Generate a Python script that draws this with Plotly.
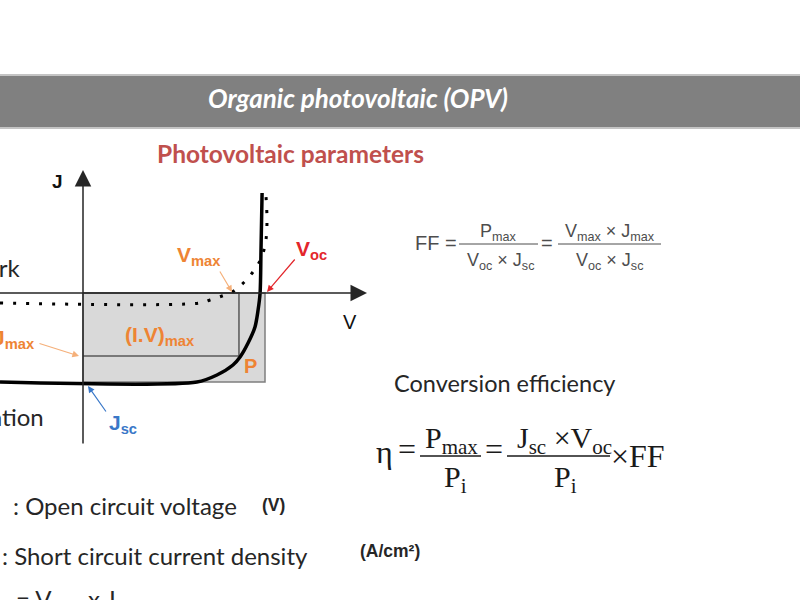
import plotly.graph_objects as go

W, H = 800, 600

# ---------------- data (normalised units: V / Voc , J / |Jsc|) ----------------
light_V = [-0.456, 0.626, 0.736, 0.824, 0.863, 0.907, 0.945, 0.962, 0.973, 0.978, 0.984]
light_J = [-1.0, -1.0, -0.921, -0.809, -0.719, -0.562, -0.382, -0.191, 0.0, 0.483, 1.124]
dark_V = [-0.456, 0.643, 0.698, 0.764, 0.819, 0.863, 0.912, 0.956, 0.984, 1.005, 1.011, 1.005]
dark_J = [-0.112, -0.112, -0.079, -0.034, 0.011, 0.079, 0.180, 0.303, 0.416, 0.596, 0.820, 1.10]
Voc = 1.0
Jsc = -1.0
Vmax = 0.857
Jmax = -0.708

# ---------------- layout geometry (pixels) ----------------
OX, OY = 83, 293        # origin of the J-V diagram
SX, SY = 182, 89        # pixels per unit


def V_at(px):
    return (px - OX) / SX


def J_at(py):
    return (OY - py) / SY


def PX(x):
    return x / W


def PY(y):
    return 1 - y / H


SANS = "Lato"
ARIAL = "Liberation Sans"
SERIF = "Liberation Serif"
ORANGE = "#EE8434"
ORANGE_L = "#F5B07A"
RED = "#E3262B"
BLUE = "#3A78C8"

fig = go.Figure()

# power rectangle Voc x Jsc
fig.add_trace(go.Scatter(
    x=[0, Voc, Voc, 0, 0], y=[0, 0, Jsc, Jsc, 0], mode="lines",
    fill="toself", fillcolor="#D9D9D9",
    line=dict(color="#7F7F7F", width=1.5), hoverinfo="skip"))
# maximum power rectangle
fig.add_trace(go.Scatter(
    x=[0, Vmax, Vmax, 0], y=[0, 0, Jmax, Jmax], mode="lines",
    line=dict(color="#595959", width=1.5), hoverinfo="skip"))
# dark curve
fig.add_trace(go.Scatter(
    x=dark_V, y=dark_J, mode="lines", line_shape="spline",
    line=dict(color="black", width=3, dash="3px,10px"), hoverinfo="skip"))
# illuminated curve
fig.add_trace(go.Scatter(
    x=light_V, y=light_J, mode="lines", line_shape="spline",
    line=dict(color="black", width=3.5, smoothing=0.8), hoverinfo="skip"))

ann = []
# axes with arrow heads
ann.append(dict(x=V_at(367), y=0, ax=V_at(-2), ay=0, axref="x", ayref="y",
                xref="x", yref="y", text="", showarrow=True, arrowhead=2,
                arrowsize=2.2, arrowwidth=1.5, arrowcolor="#262626"))
ann.append(dict(x=0, y=J_at(170), ax=0, ay=J_at(445), axref="x", ayref="y",
                xref="x", yref="y", text="", showarrow=True, arrowhead=2,
                arrowsize=2.2, arrowwidth=1.5, arrowcolor="#262626"))


def txt(x, y, t, size, color, family=SANS, xanchor="center", yanchor="middle"):
    ann.append(dict(x=PX(x), y=PY(y), xref="paper", yref="paper", text=t,
                    showarrow=False, xanchor=xanchor, yanchor=yanchor,
                    font=dict(size=size, color=color, family=family)))


def arrow(x0, y0, x1, y1, color, width=1.2):
    ann.append(dict(x=V_at(x1), y=J_at(y1), ax=V_at(x0), ay=J_at(y0),
                    xref="x", yref="y", axref="x", ayref="y", text="",
                    showarrow=True, arrowhead=2, arrowsize=1.1,
                    arrowwidth=width, arrowcolor=color))


# diagram labels
txt(58, 181, "<b>J</b>", 19, "#111", ARIAL)
txt(350, 322, "V", 20, "#111", ARIAL)
txt(199, 256, "<b>V<sub>max</sub></b>", 21, ORANGE, ARIAL)
txt(311, 250, "<b>V<sub>oc</sub></b>", 21, RED, ARIAL)
txt(160, 336, "<b>(I.V)<sub>max</sub></b>", 21, ORANGE, ARIAL)
txt(251, 366, "<b>P</b>", 20, ORANGE, ARIAL)
txt(123, 424, "<b>J<sub>sc</sub></b>", 21, BLUE, ARIAL)
txt(37, 339, "<b>J<sub>max</sub></b>", 21, ORANGE, ARIAL, xanchor="right")
txt(23, 267, "Dark", 24, "#262626", SANS, xanchor="right")
txt(46, 416, "Illumination", 24, "#262626", SANS, xanchor="right")

arrow(219, 270, 232, 292, ORANGE_L)
arrow(296, 258, 267, 292, RED)
arrow(38, 343, 79, 356, ORANGE_L)
arrow(107, 413, 88, 386, BLUE)

# header and subtitle
txt(358, 98, "<b><i>Organic photovoltaic (OPV)</i></b>", 26, "white", SANS)
txt(290, 153, "<b>Photovoltaic parameters</b>", 24.5, "#C0504D", SANS)

# fill factor formula
G = "#4D4D4D"
txt(427, 243, "FF", 20, G, ARIAL)
txt(451, 243, "=", 20, G, ARIAL)
txt(498, 232, "P<sub>max</sub>", 18, G, ARIAL)
txt(500, 261, "V<sub>oc</sub> × J<sub>sc</sub>", 18, G, ARIAL)
txt(547, 243, "=", 20, G, ARIAL)
txt(610, 232, "V<sub>max</sub> × J<sub>max</sub>", 18, G, ARIAL)
txt(609, 261, "V<sub>oc</sub> × J<sub>sc</sub>", 18, G, ARIAL)

# conversion efficiency
txt(504, 383, "Conversion efficiency", 23.5, "#262626", SANS)
K = "#1A1A1A"
txt(384, 452, "η", 32, K, SERIF)
txt(407, 449, "=", 32, K, SERIF)
txt(452, 440, "P<sub>max</sub>", 30, K, SERIF)
txt(455, 479, "P<sub>i</sub>", 30, K, SERIF)
txt(494, 449, "=", 32, K, SERIF)
txt(564, 440, "J<sub>sc</sub> ×V<sub>oc</sub>", 30, K, SERIF)
txt(565, 479, "P<sub>i</sub>", 30, K, SERIF)
txt(638, 456, "×FF", 32, K, SERIF)

# definitions at the bottom
txt(11, 505, ": Open circuit voltage", 24, "#262626", SANS, xanchor="left")
txt(273, 505, "<b>(V)</b>", 17.5, "#262626", ARIAL)
txt(0, 555, ": Short circuit current density", 24, "#262626", SANS, xanchor="left")
txt(390, 551, "<b>(A/cm²)</b>", 17.5, "#262626", ARIAL)
txt(14, 600, "= V<sub>max</sub> x J<sub>max</sub>", 24, "#262626", SANS, xanchor="left")

shapes = [
    dict(type="rect", xref="paper", yref="paper", x0=PX(-5), x1=PX(805),
         y0=PY(75), y1=PY(128), fillcolor="#808080",
         line=dict(color="#C4C4C4", width=2), layer="below"),
    dict(type="line", xref="paper", yref="paper", x0=PX(459), x1=PX(538),
         y0=PY(244), y1=PY(244), line=dict(color=G, width=1)),
    dict(type="line", xref="paper", yref="paper", x0=PX(558), x1=PX(661),
         y0=PY(244), y1=PY(244), line=dict(color=G, width=1)),
    dict(type="line", xref="paper", yref="paper", x0=PX(420), x1=PX(481),
         y0=PY(456), y1=PY(456), line=dict(color=K, width=1.5)),
    dict(type="line", xref="paper", yref="paper", x0=PX(507), x1=PX(610),
         y0=PY(456), y1=PY(456), line=dict(color=K, width=1.5)),
]

fig.update_layout(
    width=W, height=H, margin=dict(l=0, r=0, t=0, b=0),
    paper_bgcolor="white", plot_bgcolor="rgba(0,0,0,0)",
    showlegend=False, annotations=ann, shapes=shapes,
    xaxis=dict(range=[V_at(0), V_at(W)], visible=False, fixedrange=True),
    yaxis=dict(range=[J_at(H), J_at(0)], visible=False, fixedrange=True),
)

fig.write_html("out.html", config={"displayModeBar": False},
               post_script="document.body.style.margin='0';document.body.style.overflow='hidden';")
